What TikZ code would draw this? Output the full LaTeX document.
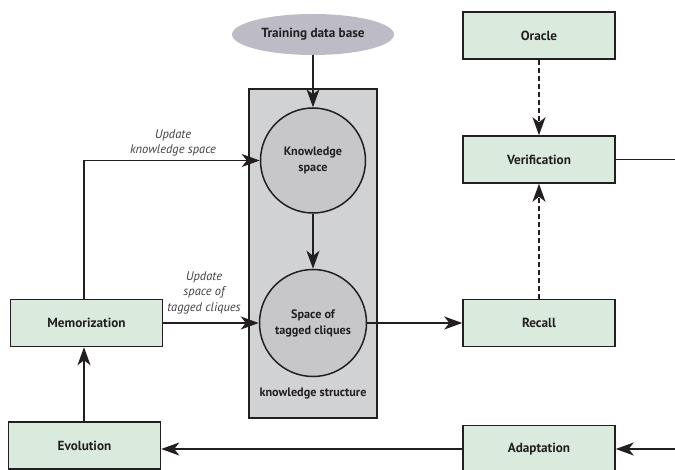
\documentclass[tikz,border=0pt]{standalone}
\usepackage{fontspec}
\setmainfont{PT Sans}
\usetikzlibrary{arrows.meta,shapes.geometric}

\definecolor{ink}{HTML}{231F20}
\definecolor{boxgreen}{HTML}{DAEBDD}
\definecolor{panelgray}{HTML}{D1D2D4}
\definecolor{spacegray}{HTML}{C7C7C9}
\definecolor{dbgray}{HTML}{BDBBC6}

\tikzset{
  stagebox/.style={draw=ink, fill=boxgreen, line width=1.5pt,
    minimum width=152pt, minimum height=47pt, inner sep=0pt,
    text=ink, font=\bfseries\fontsize{13.2}{15}\selectfont},
  spacenode/.style={circle, draw=ink, fill=spacegray, line width=1.5pt,
    inner sep=0pt, align=center, text=ink,
    font=\bfseries\fontsize{12.2}{16}\selectfont},
  edgelabel/.style={align=center, text=ink!85,
    font=\itshape\fontsize{12.5}{15.5}\selectfont},
  flow/.style={draw=ink, line width=1.5pt,
    -{Stealth[length=18pt, width=13pt, inset=5pt]}},
  plainflow/.style={draw=ink, line width=1.5pt},
  checkflow/.style={flow, dash pattern=on 5pt off 3pt},
}

\begin{document}
\begin{tikzpicture}[x=1pt, y=-1pt]
\useasboundingbox (0,0) rectangle (675,470);
\clip (0,0) rectangle (675,470);

% knowledge structure panel
\node[draw=ink, fill=panelgray, line width=1.1pt, minimum width=128pt,
      minimum height=329pt, inner sep=0pt] (kstruct) at (313,253.5) {};
\node[text=ink, font=\bfseries\fontsize{12.2}{14}\selectfont]
      (kslabel) at (313,394) {knowledge structure};

% training data source
\node[ellipse, fill=dbgray, minimum width=162pt, minimum height=41pt,
      inner sep=0pt, text=ink, font=\bfseries\fontsize{13.2}{15}\selectfont]
      (tdb) at (313,34.5) {Training data base};

% knowledge spaces
\node[spacenode, minimum size=105pt] (ks) at (313,160.5) {Knowledge\\space};
\node[spacenode, minimum size=107pt] (sc) at (313,323) {Space of\\tagged cliques};

% processing stages
\node[stagebox] (memo)   at (86.5,323)  {Memorization};
\node[stagebox] (evol)   at (84.5,445.5) {Evolution};
\node[stagebox] (oracle) at (539,35.5)  {Oracle};
\node[stagebox] (verif)  at (539,159.5) {Verification};
\node[stagebox] (recall) at (539,323)   {Recall};
\node[stagebox] (adapt)  at (539,449)   {Adaptation};

% loose ends leaving / entering on the right
\coordinate (vout) at (675,159.5);
\coordinate (ain)  at (675,449);

% connectors
\draw[flow] (tdb.south) -- (ks.north);
\draw[flow] (ks.south) -- (sc.north);
\draw[flow] (memo.north -| 84,0) |- (ks.west);
\draw[flow] (memo.east) -- (sc.west);
\draw[flow] (sc.east) -- (recall.west);
\draw[checkflow] (oracle.south) -- (verif.north);
\draw[checkflow] (recall.north) -- (verif.south);
\draw[plainflow] (verif.east) -- (vout);
\draw[flow] (ain) -- (adapt.east);
\draw[flow] (adapt.west) -- (adapt.west -| evol.east);
\draw[flow] (evol.north -| 84,0) -- (memo.south -| 84,0);

% edge labels
\node[edgelabel] (lblks) at (173,143) {Update\\knowledge space};
\node[edgelabel] (lblsc) at (204,292.5) {Update\\space of\\tagged cliques};

\end{tikzpicture}
\end{document}
